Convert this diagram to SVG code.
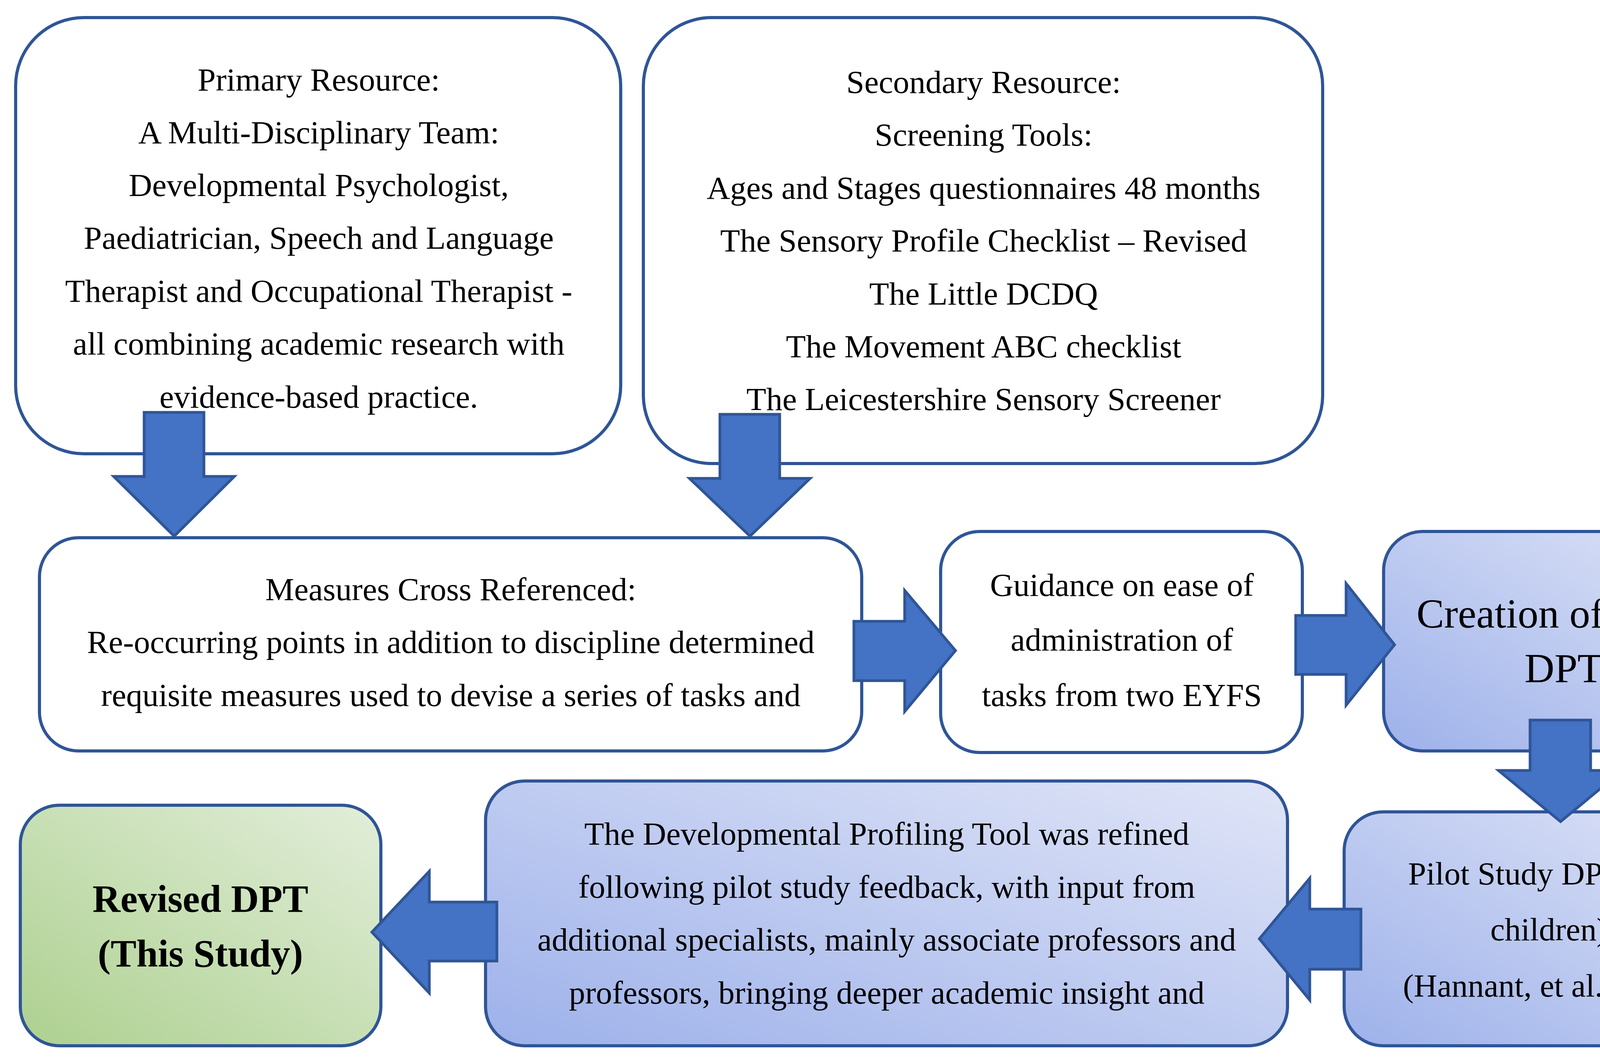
<svg xmlns="http://www.w3.org/2000/svg" width="4522" height="2717" viewBox="0 0 4522 2717">
<defs>
<linearGradient id="gb" x1="0" y1="1" x2="1" y2="0"><stop offset="0" stop-color="#9DB1EA"/><stop offset="1" stop-color="#E0E5F7"/></linearGradient>
<linearGradient id="gg" x1="0" y1="1" x2="1" y2="0"><stop offset="0" stop-color="#ADD08F"/><stop offset="1" stop-color="#E2EEDA"/></linearGradient>
</defs>
<style>
.b{stroke:#2F5597;stroke-width:8}
.w{fill:#fff}
.a{fill:#4472C4;stroke:#2F5597;stroke-width:7}
text{font-family:"Liberation Serif","Times New Roman",serif;font-size:83px;text-anchor:middle;fill:#000}
.L{font-size:106px}
.B{font-size:99px;font-weight:bold}
</style>
<g id="n1"><rect class="b w" x="40" y="45" width="1549" height="1117" rx="175"/>
<text x="816"><tspan x="816" y="232">Primary Resource:</tspan><tspan x="816" y="367">A Multi-Disciplinary Team:</tspan><tspan x="816" y="502">Developmental Psychologist,</tspan><tspan x="816" y="637">Paediatrician, Speech and Language</tspan><tspan x="816" y="773">Therapist and Occupational Therapist -</tspan><tspan x="816" y="908">all combining academic research with</tspan><tspan x="816" y="1044">evidence-based practice.</tspan></text></g>
<g id="n2"><rect class="b w" x="1647" y="45" width="1739" height="1142" rx="175"/>
<text><tspan x="2518" y="238">Secondary Resource:</tspan><tspan x="2518" y="373">Screening Tools:</tspan><tspan x="2518" y="509">Ages and Stages questionnaires 48 months</tspan><tspan x="2518" y="644">The Sensory Profile Checklist – Revised</tspan><tspan x="2518" y="780">The Little DCDQ</tspan><tspan x="2518" y="915">The Movement ABC checklist</tspan><tspan x="2518" y="1050">The Leicestershire Sensory Screener</tspan></text></g>
<g id="n3"><rect class="b w" x="101" y="1377" width="2105" height="546" rx="100"/>
<text><tspan x="1154" y="1537">Measures Cross Referenced:</tspan><tspan x="1154" y="1672">Re-occurring points in addition to discipline determined</tspan><tspan x="1154" y="1808">requisite measures used to devise a series of tasks and</tspan></text></g>
<g id="n4"><rect class="b w" x="2408" y="1361" width="926" height="566" rx="100"/>
<text><tspan x="2872" y="1526">Guidance on ease of</tspan><tspan x="2872" y="1666">administration of</tspan><tspan x="2872" y="1808">tasks from two EYFS</tspan></text></g>
<g id="n5"><rect class="b" fill="url(#gb)" x="3542" y="1361" width="922" height="562" rx="100"/>
<text class="L"><tspan x="4003" y="1607">Creation of initial</tspan><tspan x="4003" y="1747">DPT</tspan></text></g>
<g id="n6"><rect class="b" fill="url(#gb)" x="3441" y="2079" width="1047" height="599" rx="100"/>
<text><tspan x="3965" y="2265">Pilot Study DPT (172</tspan><tspan x="3965" y="2408">children)</tspan><tspan x="3965" y="2552">(Hannant, et al., 2023)</tspan></text></g>
<g id="n7"><rect class="b" fill="url(#gb)" x="1243" y="2000" width="2053" height="678" rx="100"/>
<text><tspan x="2270" y="2163">The Developmental Profiling Tool was refined</tspan><tspan x="2270" y="2299">following pilot study feedback, with input from</tspan><tspan x="2270" y="2434">additional specialists, mainly associate professors and</tspan><tspan x="2270" y="2570">professors, bringing deeper academic insight and</tspan></text></g>
<g id="n8"><rect class="b" fill="url(#gg)" x="52" y="2062" width="923" height="616" rx="100"/>
<text class="B"><tspan x="513" y="2335">Revised DPT</tspan><tspan x="513" y="2475">(This Study)</tspan></text></g>
<g id="connectors">
<polygon class="a" points="369,1056 522,1056 522,1220 600,1220 446,1373 291,1220 369,1220"/>
<polygon class="a" points="1843,1061 1996,1061 1996,1225 2074,1225 1920,1373 1765,1225 1843,1225"/>
<polygon class="a" points="2186,1591 2316,1591 2316,1512 2446,1666 2316,1822 2316,1743 2186,1743"/>
<polygon class="a" points="3317,1576 3446,1576 3446,1494 3570,1651 3446,1806 3446,1727 3317,1727"/>
<polygon class="a" points="3917,1844 4072,1844 4072,1973 4153,1973 3995,2104 3836,1973 3917,1973"/>
<polygon class="a" points="3484,2328 3353,2328 3353,2249 3224,2404 3353,2561 3353,2482 3484,2482"/>
<polygon class="a" points="1272,2310 1099,2310 1099,2231 952,2387 1099,2543 1099,2461 1272,2461"/>
</g>
</svg>
